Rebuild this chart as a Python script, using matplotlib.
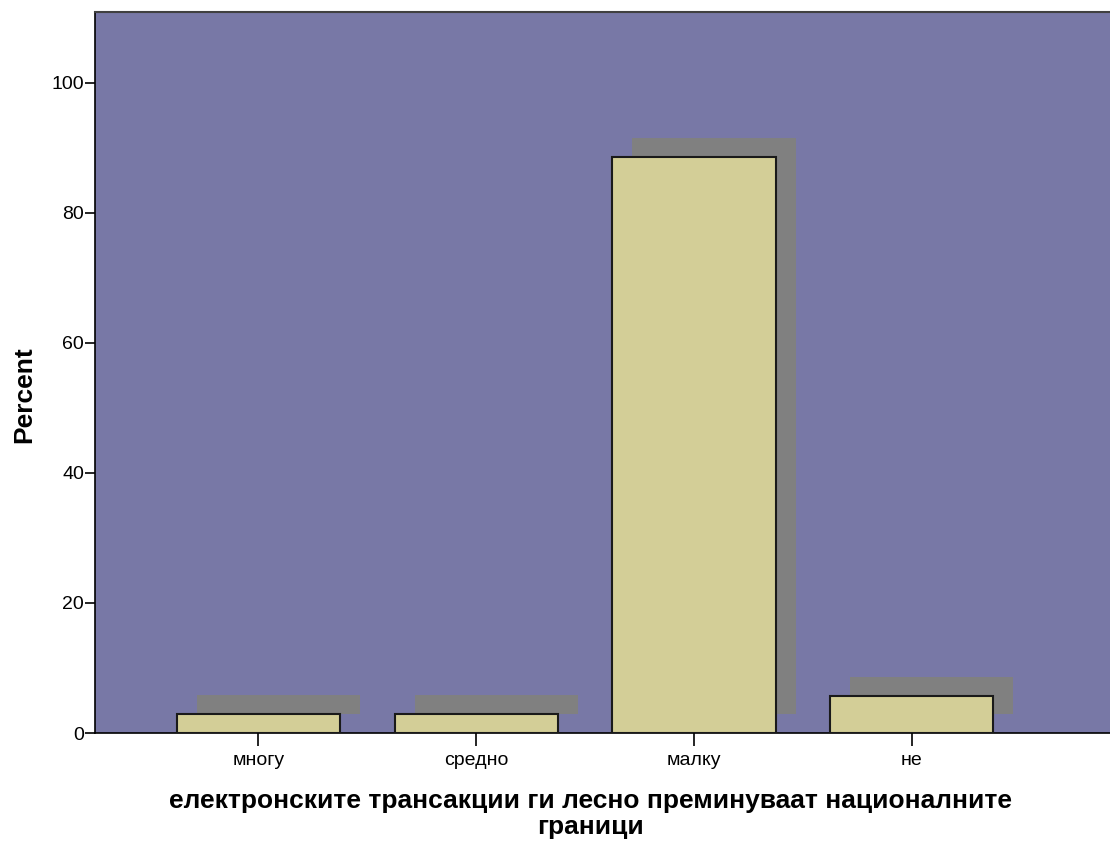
"""Bar chart of response percentages with drop shadows."""

import matplotlib

matplotlib.use("Agg")
import matplotlib.pyplot as plt
import matplotlib.transforms as mtransforms
import numpy as np

categories = ["многу", "средно", "малку", "не"]
percent = [2.9, 2.9, 88.6, 5.7]
y_ticks = [0, 20, 40, 60, 80, 100]

plt.rcParams["font.family"] = ["Liberation Sans", "DejaVu Sans"]

fig = plt.figure(figsize=(11.1, 8.44), dpi=100)
ax = fig.add_axes([0.0856, 0.1315, 0.9144, 0.8543])
ax.set_facecolor("#7878a6")

x = np.arange(len(categories))
# shadow: same bars shifted right and up by a fixed number of pixels
shadow = mtransforms.offset_copy(ax.transData, fig=fig, x=20, y=19, units="dots")
ax.bar(x, percent, width=0.75, color="#808080", linewidth=0, transform=shadow, zorder=2)
ax.bar(x, percent, width=0.75, color="#d3ce97", edgecolor="#1a1a1a", linewidth=1.5, zorder=3)

ax.set_xlim(-0.75, 3.91)
ax.set_ylim(0, 110.9)
ax.set_xticks(x)
ax.set_xticklabels(categories, fontsize=14)
ax.set_yticks(y_ticks)
ax.set_yticklabels([str(v) for v in y_ticks], fontsize=14)
ax.tick_params(axis="x", direction="out", length=9, width=1.2, color="black", pad=5)
ax.tick_params(axis="y", direction="out", length=7, width=1.2, color="black", pad=1)

for side in ("left", "bottom"):
    ax.spines[side].set_color("black")
    ax.spines[side].set_linewidth(1.2)
ax.spines["top"].set_color("#404040")
ax.spines["top"].set_linewidth(1.5)
ax.spines["right"].set_visible(False)

ax.set_ylabel("Percent", fontsize=19, fontweight="bold")
ax.yaxis.set_label_coords(-0.058, 0.469)
ax.set_xlabel(
    "електронските трансакции ги лесно преминуваат националните\nграници",
    fontsize=19, fontweight="bold", linespacing=1.08,
)
ax.xaxis.set_label_coords(0.488, -0.078)
ax.xaxis.label.set_va("top")

fig.savefig("out.png", dpi=100)
plt.close(fig)
